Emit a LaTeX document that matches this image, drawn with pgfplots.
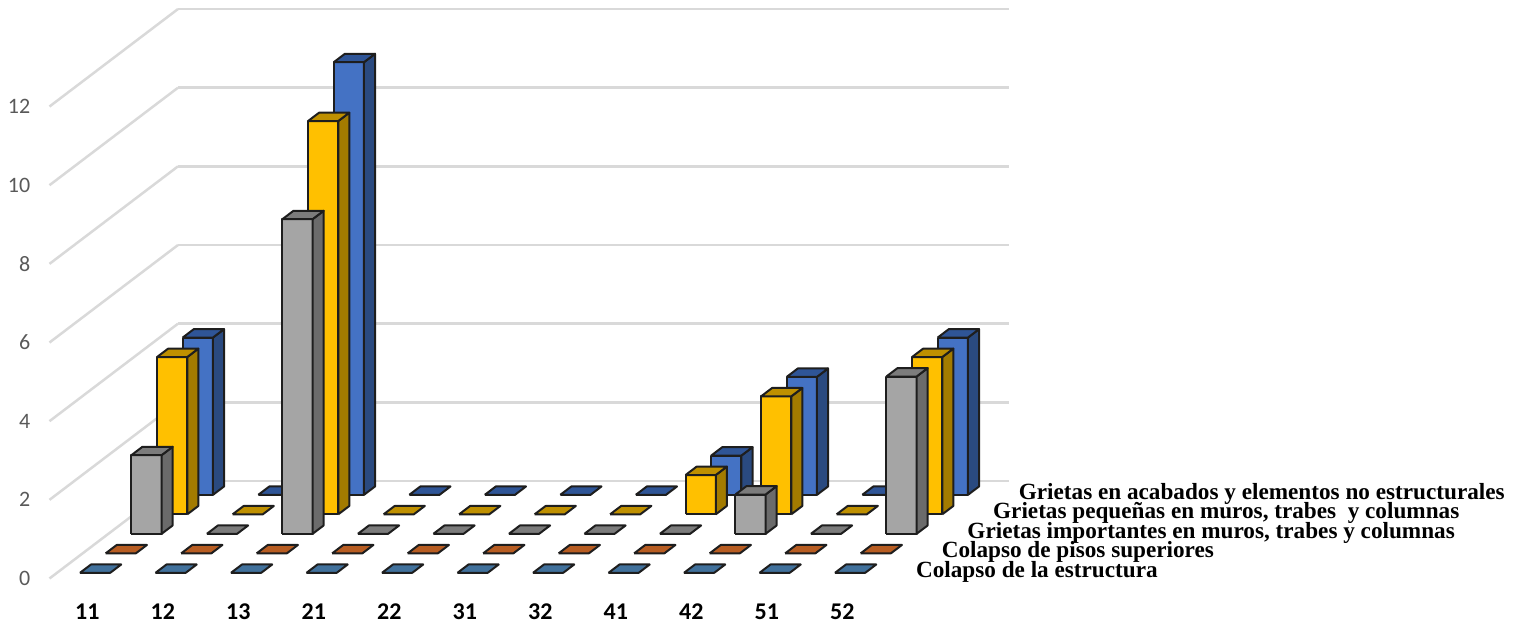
\documentclass[border=0pt]{standalone}
\usepackage{fontspec}
\setmainfont{Liberation Serif}
\newfontfamily\carlito{Carlito}
\usepackage{pgfplots}
\usepackage{pgfplotstable}
\pgfplotsset{compat=1.18}
\definecolor{gridc}{HTML}{D9D9D9}
\definecolor{zlab}{HTML}{595959}
\definecolor{barline}{HTML}{1E1E1E}
\definecolor{f0}{HTML}{5B9BD5}\definecolor{t0}{HTML}{41719C}\definecolor{s0}{HTML}{2E5F8A}
\definecolor{f1}{HTML}{ED7D31}\definecolor{t1}{HTML}{B85D22}\definecolor{s1}{HTML}{9E480E}
\definecolor{f2}{HTML}{A5A5A5}\definecolor{t2}{HTML}{7C7C7C}\definecolor{s2}{HTML}{6B6B6B}
\definecolor{f3}{HTML}{FFC000}\definecolor{t3}{HTML}{BF9000}\definecolor{s3}{HTML}{A37B00}
\definecolor{f4}{HTML}{4472C4}\definecolor{t4}{HTML}{2F5597}\definecolor{s4}{HTML}{2A4A80}
\pgfplotstableread{
cat s0 s1 s2 s3 s4
11 0 0 2 4 4
12 0 0 0 0 0
13 0 0 8 10 11
21 0 0 0 0 0
22 0 0 0 0 0
31 0 0 0 0 0
32 0 0 0 0 0
41 0 0 0 1 1
42 0 0 1 3 3
51 0 0 0 0 0
52 0 0 4 4 4
}\data
\newcommand\poly[5]{% colour, four corners
  \edef\temp{\noexpand\addplot3[forget plot,mark=none,fill=#1,draw=barline,line width=2pt,line join=round] coordinates {#2 #3 #4 #5 #2};}\temp}
\newcommand\cuboid[3]{% category index, row index, value
  \pgfmathsetmacro\xa{#1+0.305}\pgfmathsetmacro\xb{#1+0.705}%
  \pgfmathsetmacro\ya{#2+0.29}\pgfmathsetmacro\yb{#2+0.72}%
  \edef\v{#3}%
  \ifdim\v pt>0pt
    \poly{f#2}{(\xa,\ya,0)}{(\xb,\ya,0)}{(\xb,\ya,\v)}{(\xa,\ya,\v)}%
    \poly{s#2}{(\xb,\ya,0)}{(\xb,\yb,0)}{(\xb,\yb,\v)}{(\xb,\ya,\v)}%
  \fi
  \poly{t#2}{(\xa,\ya,\v)}{(\xb,\ya,\v)}{(\xb,\yb,\v)}{(\xa,\yb,\v)}%
}
\begin{document}
\begin{tikzpicture}[x=1pt,y=1pt]
\path[use as bounding box] (0,0) rectangle (1526,626);
\begin{axis}[
  at={(49.5pt,47.5pt)},anchor=origin,
  x={(75.5pt,0pt)},y={(25.7pt,19.5pt)},z={(0pt,39.33pt)},
  xmin=0,xmax=11,ymin=0,ymax=5,zmin=0,zmax=12,
  clip=false,
  axis line style={draw=none},
  major tick length=0pt,
  tick style={draw=none},
  zmajorgrids=true,
  z grid style={draw=gridc,line width=2.5pt},
  xtick={0.5,1.5,2.5,3.5,4.5,5.5,6.5,7.5,8.5,9.5,10.5},
  xticklabels={11,12,13,21,22,31,32,41,42,51,52},
  x tick label style={font=\carlito\bfseries\fontsize{24}{28}\selectfont,text=black,anchor=center,yshift=-33pt,xshift=0pt},
  ytick={0.5,1.5,2.5,3.5,4.5},
  yticklabels={Colapso de la estructura,Colapso de pisos superiores,{Grietas importantes en muros, trabes y columnas},{Grietas pequeñas en muros, trabes\ \ y columnas},Grietas en acabados y elementos no estructurales},
  y tick label style={font=\bfseries\fontsize{23.2}{27}\selectfont,text=black,anchor=west,xshift=23pt,yshift=-4pt,text height=14pt,text depth=5pt,inner sep=0pt},
  ztick={0,2,4,6,8,10,12},
  z tick label style={font=\carlito\fontsize{22}{26}\selectfont,text=zlab,anchor=east,xshift=-19pt,inner sep=0pt},
  /pgf/number format/assume math mode=true,
]
\pgfplotsforeachungrouped \r in {4,3,2,1,0}{%
  \pgfplotsforeachungrouped \c in {0,...,10}{%
    \pgfplotstablegetelem{\c}{s\r}\of\data
    \edef\val{\pgfplotsretval}%
    \cuboid{\c}{\r}{\val}%
  }%
}
\end{axis}
\end{tikzpicture}
\end{document}
